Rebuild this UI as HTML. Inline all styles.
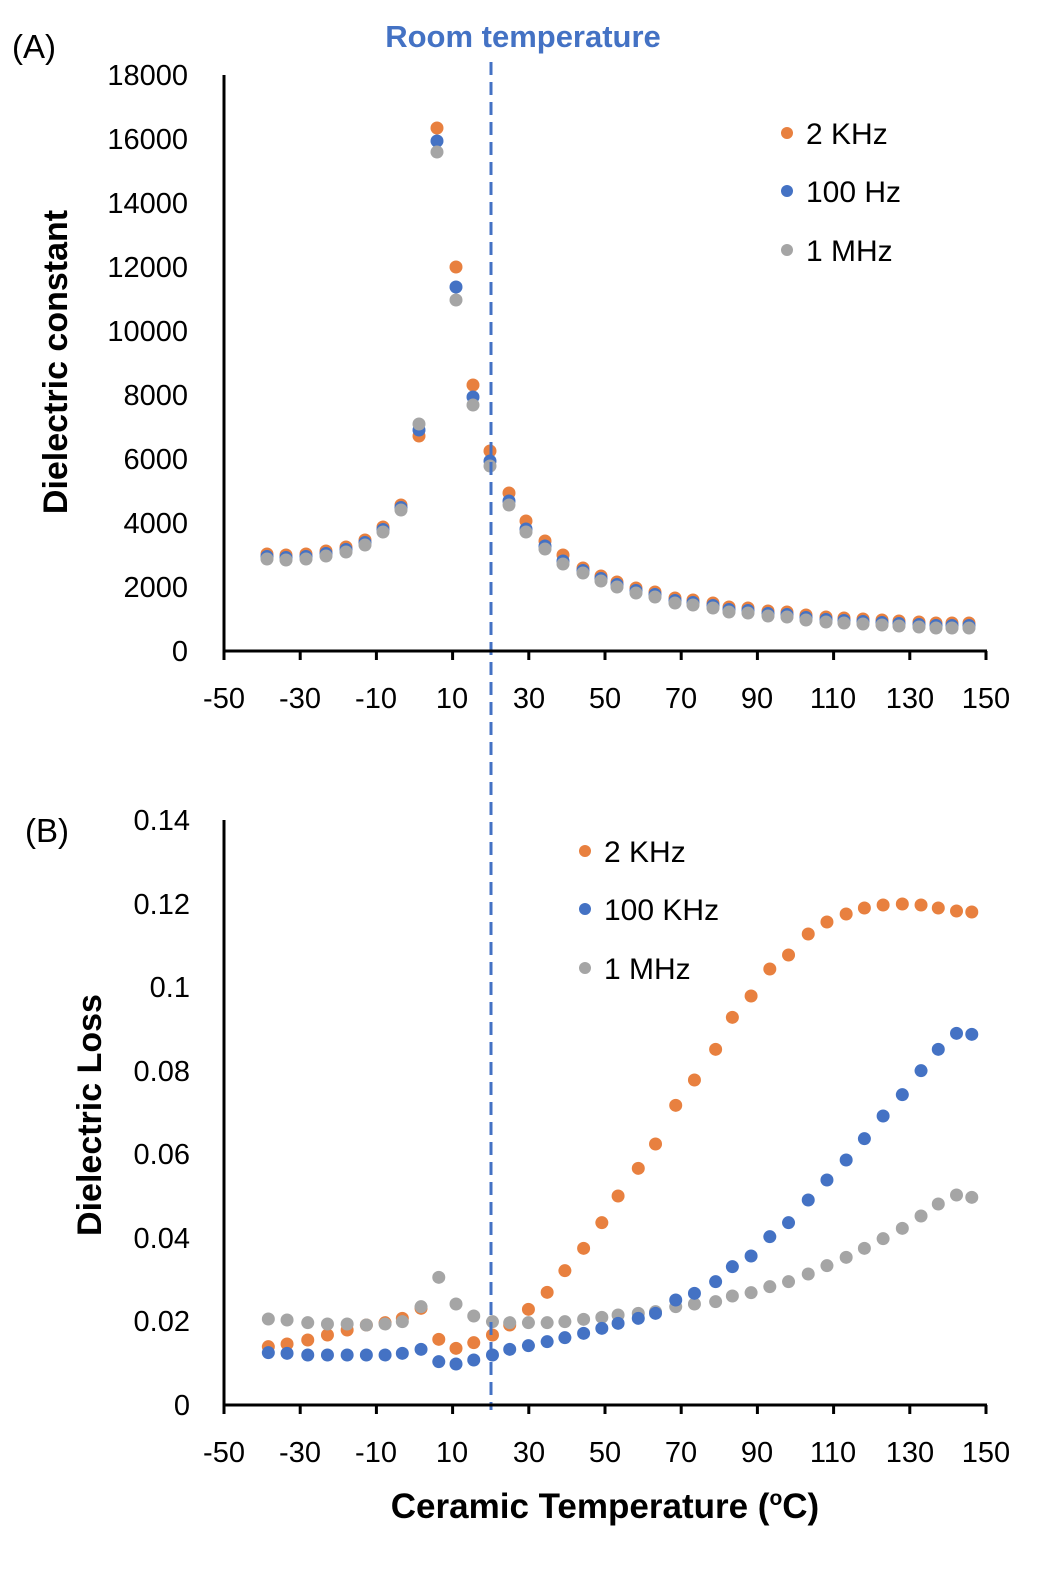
<!DOCTYPE html>
<html><head><meta charset="utf-8"><style>
body{margin:0;background:#fff}
svg{display:block;font-family:"Liberation Sans",sans-serif}
</style></head><body>
<svg id="s" width="1054" height="1572" viewBox="0 0 1054 1572" xmlns="http://www.w3.org/2000/svg">
<rect width="1054" height="1572" fill="#fff"/>
<g id="dots"></g>
<line x1="491" y1="62" x2="491" y2="1410" stroke="#4472C4" stroke-width="3" stroke-dasharray="13,7"/>
<g stroke="#000" stroke-width="3" fill="none">
<line x1="224" y1="75" x2="224" y2="652"/><line x1="223" y1="651" x2="987" y2="651"/>
<line x1="224" y1="820" x2="224" y2="1406"/><line x1="223" y1="1405" x2="987" y2="1405"/>
<g id="ticks"></g>
</g>
<g font-size="29" fill="#000" text-anchor="end">
<text x="188" y="85">18000</text><text x="188" y="149">16000</text><text x="188" y="213">14000</text>
<text x="188" y="277">12000</text><text x="188" y="341">10000</text><text x="188" y="405">8000</text>
<text x="188" y="469">6000</text><text x="188" y="533">4000</text><text x="188" y="597">2000</text>
<text x="188" y="661">0</text>
<text x="190" y="830">0.14</text><text x="190" y="914">0.12</text><text x="190" y="997">0.1</text>
<text x="190" y="1081">0.08</text><text x="190" y="1164">0.06</text><text x="190" y="1248">0.04</text>
<text x="190" y="1331">0.02</text><text x="190" y="1415">0</text>
</g>
<g font-size="29" fill="#000" text-anchor="middle">
<text x="224" y="708">-50</text><text x="300" y="708">-30</text><text x="376" y="708">-10</text>
<text x="452" y="708">10</text><text x="529" y="708">30</text><text x="605" y="708">50</text>
<text x="681" y="708">70</text><text x="757" y="708">90</text><text x="833" y="708">110</text>
<text x="910" y="708">130</text><text x="986" y="708">150</text>
<text x="224" y="1462">-50</text><text x="300" y="1462">-30</text><text x="376" y="1462">-10</text>
<text x="452" y="1462">10</text><text x="529" y="1462">30</text><text x="605" y="1462">50</text>
<text x="681" y="1462">70</text><text x="757" y="1462">90</text><text x="833" y="1462">110</text>
<text x="910" y="1462">130</text><text x="986" y="1462">150</text>
</g>
<text x="12" y="58" font-size="33">(A)</text>
<text x="25" y="842" font-size="33">(B)</text>
<text x="523" y="47" font-size="31" font-weight="bold" fill="#4472C4" text-anchor="middle">Room temperature</text>
<text transform="translate(67,362) rotate(-90)" font-size="34" font-weight="bold" text-anchor="middle">Dielectric constant</text>
<text transform="translate(101,1115) rotate(-90)" font-size="34" font-weight="bold" text-anchor="middle">Dielectric Loss</text>
<text x="605" y="1518" font-size="35" font-weight="bold" text-anchor="middle">Ceramic Temperature (<tspan font-size="21" dy="-13">o</tspan><tspan dy="13">C)</tspan></text>
<g font-size="30">
<circle cx="787" cy="133" r="6" fill="#E8803F"/><text x="806" y="144">2 KHz</text>
<circle cx="787" cy="191" r="6" fill="#4472C4"/><text x="806" y="202">100 Hz</text>
<circle cx="787" cy="250" r="6" fill="#A5A5A5"/><text x="806" y="261">1 MHz</text>
<circle cx="585" cy="851" r="6" fill="#E8803F"/><text x="604" y="862">2 KHz</text>
<circle cx="585" cy="909" r="6" fill="#4472C4"/><text x="604" y="920">100 KHz</text>
<circle cx="585" cy="968" r="6" fill="#A5A5A5"/><text x="604" y="979">1 MHz</text>
</g>
</svg>
<script>
var NS="http://www.w3.org/2000/svg",O="#E8803F",B="#4472C4",G="#A5A5A5";
var t=document.getElementById("ticks");
for(var i=0;i<=10;i++){var x=224+i*76.2;[[651,660],[1405,1414]].forEach(function(p){var l=document.createElementNS(NS,"line");l.setAttribute("x1",x);l.setAttribute("x2",x);l.setAttribute("y1",p[0]);l.setAttribute("y2",p[1]);t.appendChild(l);});}
var d=document.getElementById("dots");
function dot(x,y,c){var e=document.createElementNS(NS,"circle");e.setAttribute("cx",x);e.setAttribute("cy",y);e.setAttribute("r",6.5);e.setAttribute("fill",c);d.appendChild(e);}
var ax=[267,286,306,326,346,365,383,401,419,437,456,473,490,509,526,545,563,583,601,617,636,655,675,693,713,729,748,768,787,806,826,844,863,882,899,919,936,952,969];
var ag=[559,560,559,556,552,545,532,510,424,152,300,405,466,505,532,549,564,573,581,587,593,597,603,605,608,612,613,616,617,620,622,623,624,625,626,627,628,628,628];
var ao={8:436,9:128,10:267,11:385,12:451,13:493,14:521,15:541,16:555};
var ab={8:430,9:141,10:287,11:397,12:461,13:501,14:529,15:546,16:561};
var i;
for(i=0;i<39;i++){dot(ax[i],ao[i]!==undefined?ao[i]:ag[i]-5,O);}
for(i=0;i<39;i++){dot(ax[i],ab[i]!==undefined?ab[i]:ag[i]-2.5,B);}
for(i=0;i<39;i++){dot(ax[i],ag[i],G);}
var bz=[90,128,170,210,250,289,327,362,400,436,471,507,545,580,618,656,692,730,767,800,841,876,917,955,998,1032,1070,1108,1146,1186,1224,1263,1300,1338,1377,1415,1450,1487,1518];
var bo=[1040,1032,1020,1005,990,975,968,955,925,1018,1045,1028,1005,975,928,877,812,745,668,588,505,432,316,240,148,52];
var bo2=[996,969,955,934,922,914,908,905,904,905,908,911,912];
var bb=[1058,1060,1065,1065,1065,1065,1065,1060,1048,1085,1092,1080,1065,1048,1037,1025,1013,1000,985,970,955,940,900,880,845,800,768,710,668,600,540,480,416,348,284,212,148,100,103];
var bg=[957,960,968,972,972,975,972,965,920,832,912,948,965,968,968,968,965,958,952,945,940,935,920,912,905,888,878,860,845,822,797,772,745,716,685,648,612,585,592];
function X(z){return 224+z/2.03;}
for(i=0;i<39;i++){dot(X(bz[i]),i<26?1000+bo[i]/3:bo2[i-26],O);}
for(i=0;i<39;i++){dot(X(bz[i]),1000+bg[i]/3,G);}
for(i=0;i<39;i++){if(i>=20)dot(X(bz[i]),1000+bb[i]/3,B);}
for(i=0;i<20;i++){dot(X(bz[i]),1000+bb[i]/3,B);}
</script>
</body></html>
